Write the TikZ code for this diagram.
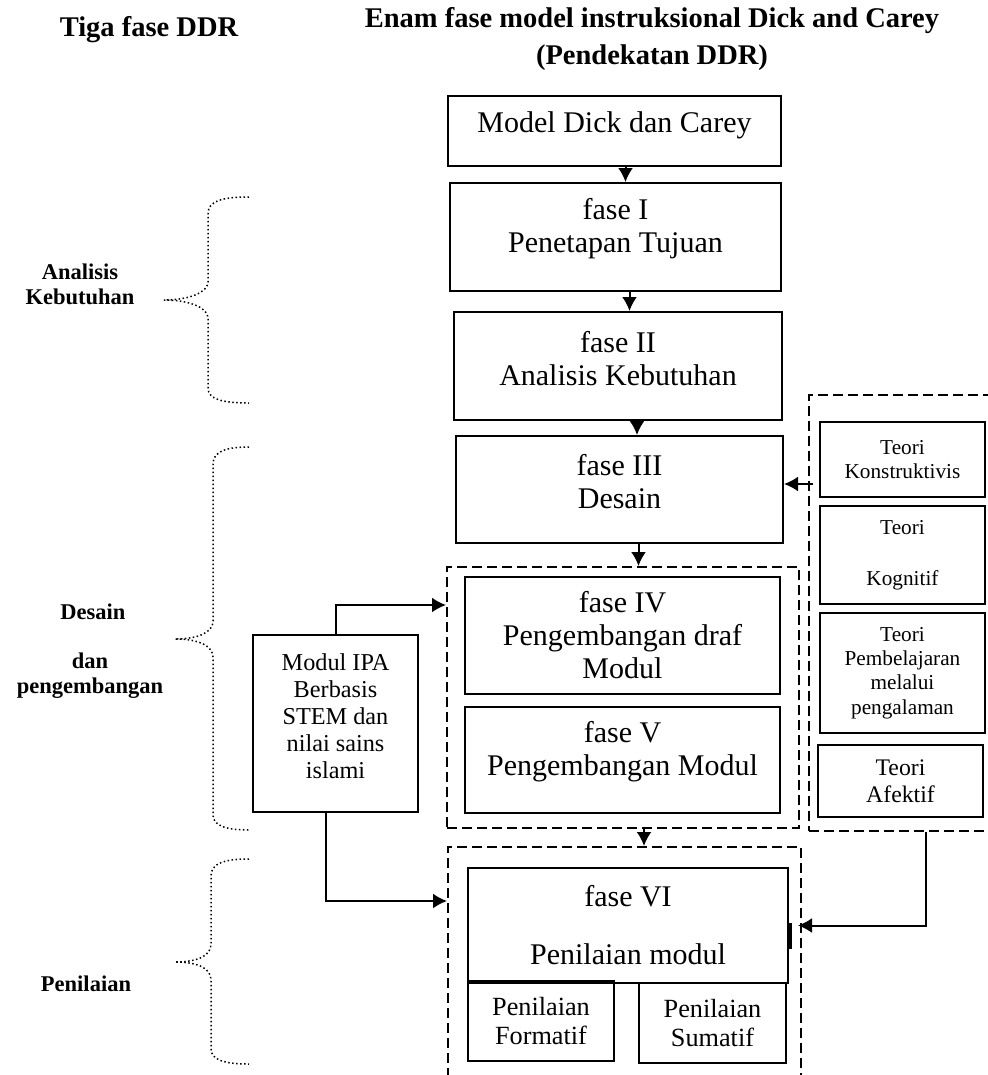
\documentclass[tikz,border=0pt]{standalone}
\usepackage{fontspec}
\setmainfont{Liberation Serif}
\usetikzlibrary{arrows.meta}

\newcommand{\lowpad}[1]{\rule[-#1]{0pt}{0pt}}

\begin{document}
\begin{tikzpicture}[
  x = 0.4pt, y = -0.4pt,
  phase/.style={draw, thick, font=\fontsize{12}{13.2}\selectfont},
  theory/.style={draw, thick, font=\fontsize{8.5}{9.7}\selectfont},
  assess/.style={draw, thick, font=\fontsize{10.5}{11.6}\selectfont},
  group/.style={draw, thick, dash pattern=on 4pt off 2pt},
  stage/.style={font=\bfseries\fontsize{9}{10}\selectfont},
  heading/.style={font=\bfseries\fontsize{11.4}{14.8}\selectfont},
  brace/.style={densely dotted, semithick},
  arr/.style={thick, -{Latex[length=5.6pt, width=6pt]}},
  wh/.style 2 args={minimum width=#1*0.4pt, minimum height=#2*0.4pt, inner sep=0pt},
  every text node part/.style={align=center}
]
\useasboundingbox (0,0) rectangle (988,1075);

%headings
\node[heading] (tiga) at (149,30) {Tiga fase DDR};
\node[heading] (enam) at (652,38.5) {Enam fase model instruksional Dick and Carey\\(Pendekatan DDR)};

%main column
\node[phase, wh={333}{70}]  (model) at (614.5,131) {Model Dick dan Carey\lowpad{7.4pt}};
\node[phase, wh={331}{108}] (f1) at (615.5,237) {fase I\\Penetapan Tujuan\lowpad{9pt}};
\node[phase, wh={328}{108}] (f2) at (618,366) {fase II\\Analisis Kebutuhan\lowpad{6.4pt}};
\node[phase, wh={327}{107}] (f3) at (619.5,489.5) {fase III\\Desain\lowpad{6.4pt}};

\node[group, wh={352}{261}] (g45) at (623,697.5) {};
\node[phase, wh={315}{117}] (f4) at (622.5,635.5) {fase IV\\Pengembangan draf\\Modul};
\node[phase, wh={315}{106}] (f5) at (622.5,760) {fase V\\Pengembangan Modul\lowpad{9pt}};

\node[group, wh={353}{243}] (g6) at (624.5,968.5) {};
\node[phase, wh={320}{115}] (f6) at (628,925.5) {fase VI\\[10pt]Penilaian modul};
\node[assess, wh={146}{80}] (form) at (541,1021) {Penilaian\\Formatif};
\node[assess, wh={147}{80}] (sum) at (712.5,1023) {Penilaian\\Sumatif};
\draw[line width=1.2pt] ([xshift=0.5pt, yshift=1pt]f6.east) -- ++(0,26);

%module
\node[draw, thick, font=\fontsize{9.7}{10.8}\selectfont, wh={165}{177}] (modul) at (335.5,723.5)
  {Modul IPA\\Berbasis\\STEM dan\\nilai sains\\islami\lowpad{6pt}};

%theories
\node[group, wh={234}{436}] (gteori) at (926,613) {};
\node[theory, wh={165}{75}]  (kons) at (902.5,459.5) {Teori\\Konstruktivis};
\node[theory, wh={165}{98}]  (kogn) at (902.5,555) {Teori\\[10.7pt]Kognitif};
\node[theory, wh={165}{120}] (pemb) at (902.5,673) {Teori\\Pembelajaran\\melalui\\pengalaman};
\node[theory, wh={165}{72}, font=\fontsize{9.5}{10.8}\selectfont] (afek) at (900.5,781) {Teori\\Afektif};

%DDR stages
\node[stage] (analisis) at (80,284.5) {Analisis\\Kebutuhan};
\node[stage] (desain) at (93,612) {Desain};
\node[stage] (pengembangan) at (90,675.5) {dan\\pengembangan};
\node[stage] (penilaian) at (86,984) {Penilaian};

\foreach \yt/\ym/\yb/\xv/\xm in {197/300/403/208/164, 447/639/830/213/175, 859/962/1064/211/175}
  \draw[brace] (249,\yt) .. controls (\xv+14,\yt) and (\xv,\yt+4) .. (\xv,\yt+17) -- (\xv,\ym-18)
    .. controls (\xv,\ym-8) and (\xm+26,\ym) .. (\xm,\ym)
    .. controls (\xm+26,\ym) and (\xv,\ym+8) .. (\xv,\ym+18) -- (\xv,\yb-15)
    .. controls (\xv,\yb-4) and (\xv+14,\yb) .. (249,\yb);

%arrows
\foreach \a/\b/\dx in {model/f1/11, f1/f2/14, f2/f3/19, f3/g45/19, g45/g6/21}
  \draw[arr] ([xshift=\dx*0.4pt]\a.south) -- ([xshift=\dx*0.4pt]\a.south |- \b.north);

\draw[arr] ([xshift=2pt, yshift=2.2pt]gteori.west |- f3.east) -- ([yshift=2.2pt]f3.east);
\draw[arr] (modul.north) |- ([yshift=37pt]g45.west);
\draw[arr] ([xshift=-3.8pt]modul.south) |- ([yshift=27pt]g6.west);
\draw[arr] (gteori.south) |- ([xshift=-1.6pt]g6.east |- f6.east);

\end{tikzpicture}
\end{document}
